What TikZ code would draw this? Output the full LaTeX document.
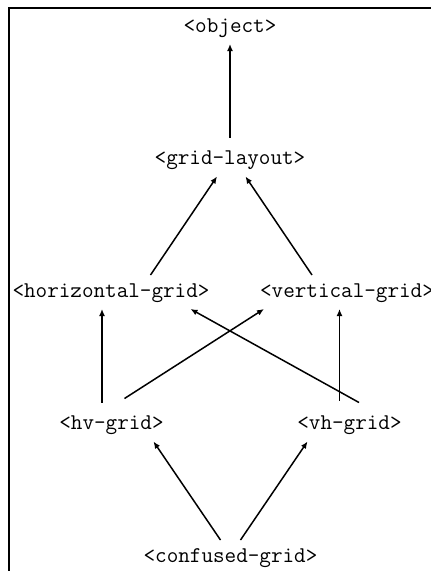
\documentclass[tikz,border=0pt]{standalone}
\usetikzlibrary{arrows.meta,positioning}

\begin{document}
\begin{tikzpicture}[font=\ttfamily\fontsize{22.5}{27}\selectfont,
  cls/.style={inner sep=0pt,outer xsep=0pt,outer ysep=7pt,text height=15pt,text depth=5pt},
  isa/.style={line width=1.5pt,-{Latex[length=7pt,width=6pt]}}]
  \useasboundingbox (0,0) rectangle (431pt,-571pt);
  \draw[line width=2.5pt] (9pt,-571pt) -- (9pt,-8pt) -- (431pt,-8pt);
  \node[cls,anchor=base] (obj) at (230pt,-32pt) {<object>};
  \node[cls,below=98.5pt of obj] (gl) {<grid-layout>};
  \node[cls,below=98.5pt of gl,xshift=-119pt] (hg) {<horizontal-grid>};
  \node[cls,below=98.5pt of gl,xshift=117pt] (vg) {<vertical-grid>};
  \node[cls,below=98.5pt of hg,xshift=0.5pt] (hv) {<hv-grid>};
  \node[cls,below=98.5pt of vg,xshift=2.5pt] (vh) {<vh-grid>};
  \node[cls,below=98.5pt of hv,xshift=119pt] (cg) {<confused-grid>};
  \foreach \src/\sx/\sy/\dst/\dx in {gl/0/5/obj/0, hg/39.5/0/gl/-13, vg/-35/0/gl/15.5,
      hv/-9.5/5/hg/-9, hv/13/9/vg/-83, vh/9.5/5/hg/79.5, vh/-10/7/vg/-7.5,
      cg/-10/0/hv/42, cg/10/0/vh/-42}
    {\draw[isa] ([xshift=\sx pt,yshift=\sy pt]\src.north) -- ([xshift=\dx pt]\dst.south);}
\end{tikzpicture}
\end{document}
